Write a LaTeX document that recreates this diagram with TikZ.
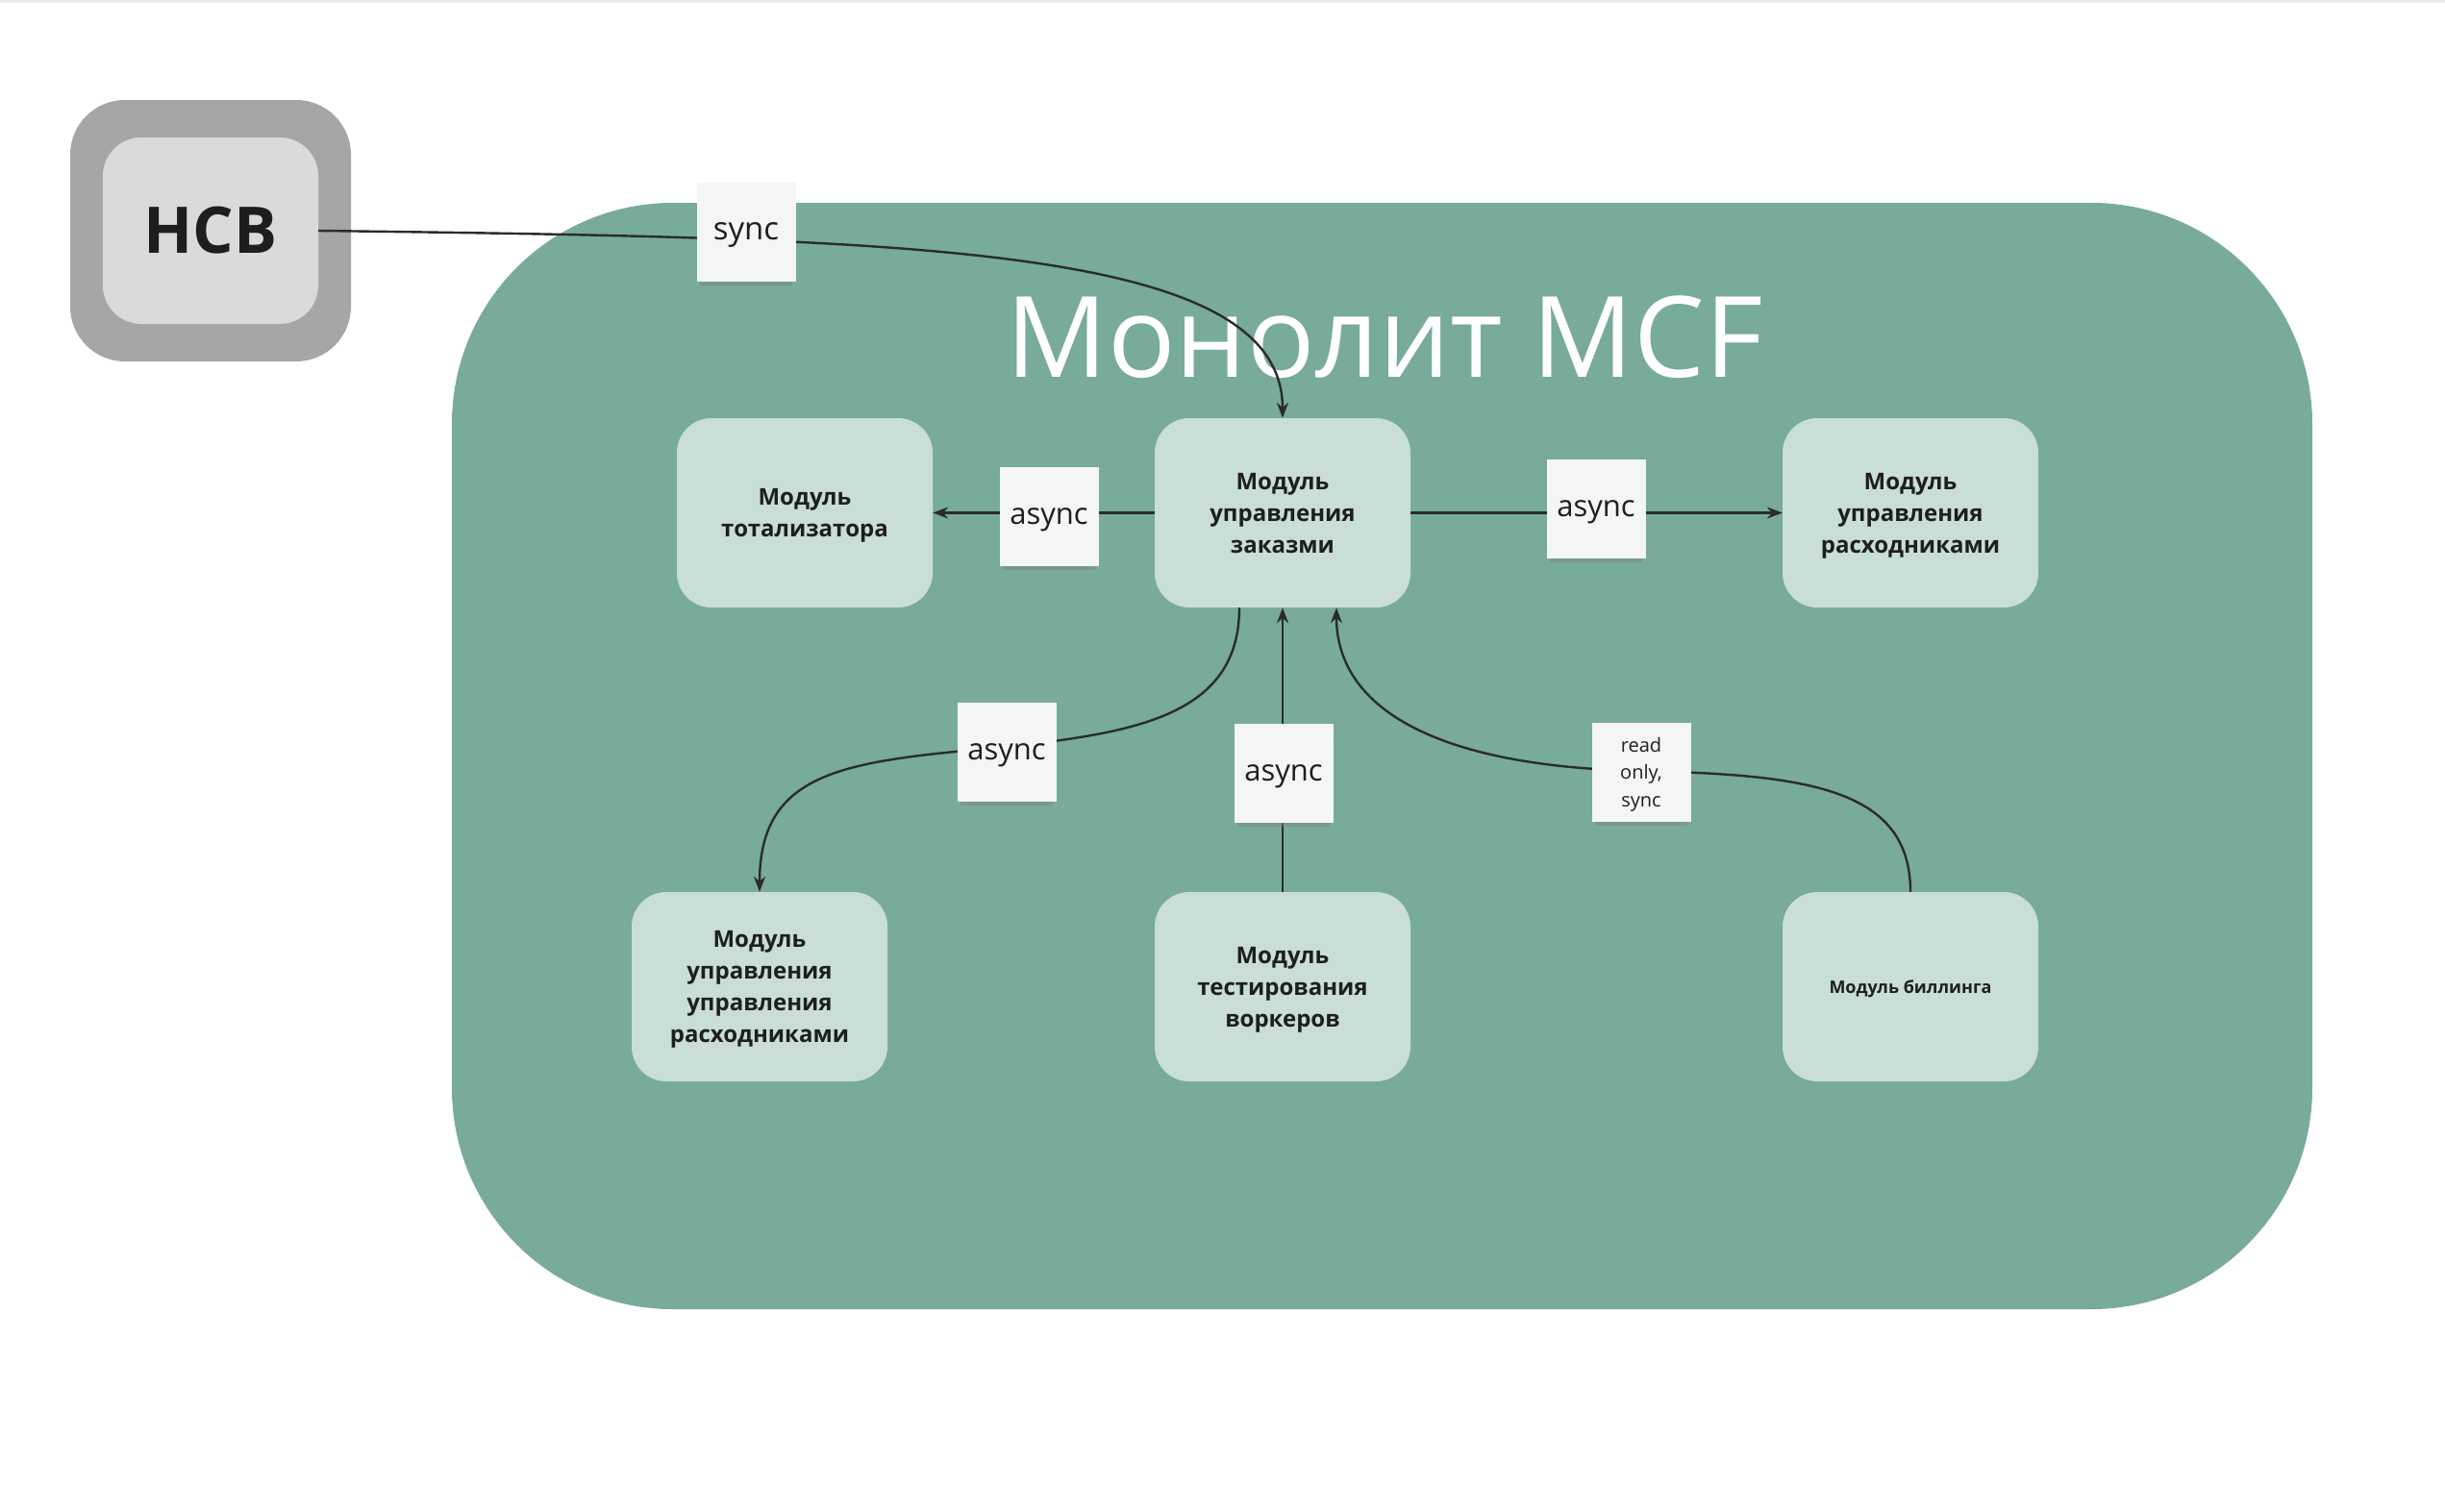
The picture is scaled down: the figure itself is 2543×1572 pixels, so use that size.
\documentclass[tikz,border=0pt]{standalone}
\usepackage{fontspec}
\setmainfont{Open Sans}
\usetikzlibrary{arrows.meta,shadows,calc}
\definecolor{monofill}{HTML}{78AB98}
\definecolor{modfill}{HTML}{C8DED6}
\definecolor{notefill}{HTML}{F3F5F6}
\definecolor{hcbout}{HTML}{A6A6A6}
\definecolor{hcbin}{HTML}{DADADA}
\definecolor{txt}{HTML}{1E1E1E}
\definecolor{linec}{HTML}{2B2B2B}
\definecolor{topline}{HTML}{EDEDED}
\tikzset{
  modbox/.style={fill=modfill, rounded corners=36pt, minimum width=266pt, minimum height=197pt,
    align=center, inner sep=0pt, text=txt, text depth=0pt, font=\bfseries\fontsize{24}{33}\selectfont},
  note/.style={fill=notefill, minimum width=103pt, minimum height=103pt, inner sep=0pt,
    align=center, text=txt, text depth=0pt, font=\fontsize{31}{40}\selectfont,
    drop shadow={shadow xshift=0pt, shadow yshift=-8pt, opacity=.45, shadow scale=.94}},
  conn/.style={draw=linec, line width=2.4pt, -{Stealth[length=16pt,width=12pt]}},
  plain/.style={draw=linec, line width=2.4pt}
}
\begin{document}
\begin{tikzpicture}[x=1pt,y=-1pt]
\useasboundingbox (0,0) rectangle (2543,1572);
\fill[white] (0,0) rectangle (2543,1572);
\fill[topline] (0,0) rectangle (2543,3);
% monolith
\node[fill=monofill, rounded corners=230pt, minimum width=1935pt, minimum height=1151pt, inner sep=0pt] (mono) at (1437.5,786.5) {};
\node[text=white, font=\fontsize{117}{140}\selectfont, anchor=base] (title) at (1440,392) {Монолит MCF};
% HCB
\node[fill=hcbout, rounded corners=57pt, minimum width=292pt, minimum height=272pt, inner sep=0pt] (hcbo) at (219,240) {};
\node[fill=hcbin, rounded corners=40pt, minimum width=224pt, minimum height=194pt, inner sep=0pt,
  text=txt, font=\bfseries\fontsize{67}{80}\selectfont] (hcb) at (219,240) {HCB};
% modules
\node[modbox] (tot) at (837,533.5) {Модуль\\тотализатора};
\node[modbox] (zak) at (1334,533.5) {Модуль\\управления\\заказми};
\node[modbox] (ras) at (1987,533.5) {Модуль\\управления\\расходниками};
\node[modbox] (bl) at (790,1026.5) {Модуль\\управления\\управления\\расходниками};
\node[modbox] (bm) at (1334,1026.5) {Модуль\\тестирования\\воркеров};
\node[modbox, font=\bfseries\fontsize{18}{24}\selectfont] (bill) at (1987,1026.5) {Модуль биллинга};
% connectors
\draw[conn] (hcb.east) .. controls (950,248) and (1334,255) .. (zak.north);
\draw[conn] (zak.west) -- (tot.east);
\draw[conn] (zak.east) -- (ras.west);
\draw[conn] ([xshift=-45pt]zak.south) .. controls (1289,745) and (1180,762) .. (1047,777)
  .. controls (880,792) and (790,800) .. (bl.north);
\draw[conn] (bm.north) -- (zak.south);
\draw[conn] (bill.north) .. controls (1987,820) and (1880,806) .. (1707,802)
  .. controls (1500,798) and ([xshift=56pt]zak.south |- 0,740) .. ([xshift=56pt]zak.south);
% notes
\node[note, font=\fontsize{33}{40}\selectfont] (nsync) at (776,241) {sync};
\node[note] (n1) at (1091,537) {async};
\node[note] (n2) at (1660,529) {async};
\node[note] (n3) at (1047,782) {async};
\node[note] (n4) at (1335,804) {async};
\node[note, font=\fontsize{20}{28.5}\selectfont] (n5) at (1707,803) {read\\only,\\sync};
\end{tikzpicture}
\end{document}
